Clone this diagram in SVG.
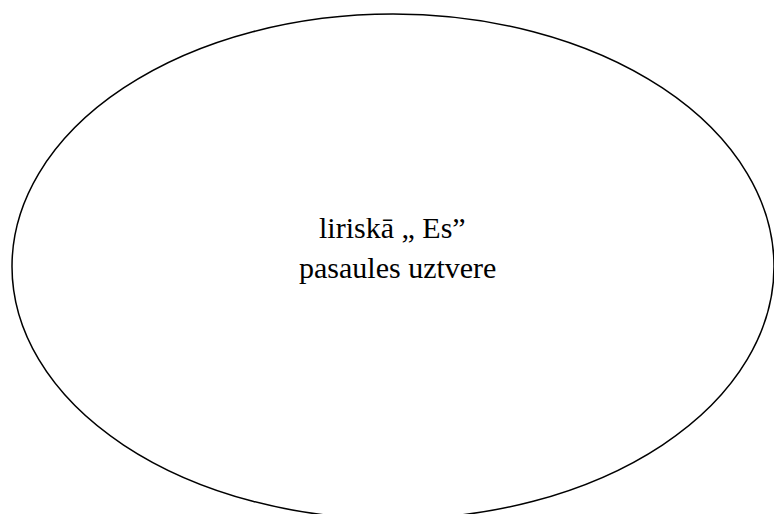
<svg xmlns="http://www.w3.org/2000/svg" width="774" height="514" viewBox="0 0 774 514">
<style>
.shape{fill:#fff;stroke:#000;stroke-width:1.5}
.lbl{font-family:"Liberation Serif","Times New Roman",serif;font-size:30px;fill:#000}
</style>
<rect width="774" height="514" fill="#fff"/>
<g id="node-ellipse">
<ellipse class="shape" cx="393" cy="266.5" rx="381" ry="252.5"/>
<text class="lbl" x="319" y="238">liriskā „ Es”</text>
<text class="lbl" x="299" y="278">pasaules uztvere</text>
</g>
<g id="connectors"/>
</svg>
